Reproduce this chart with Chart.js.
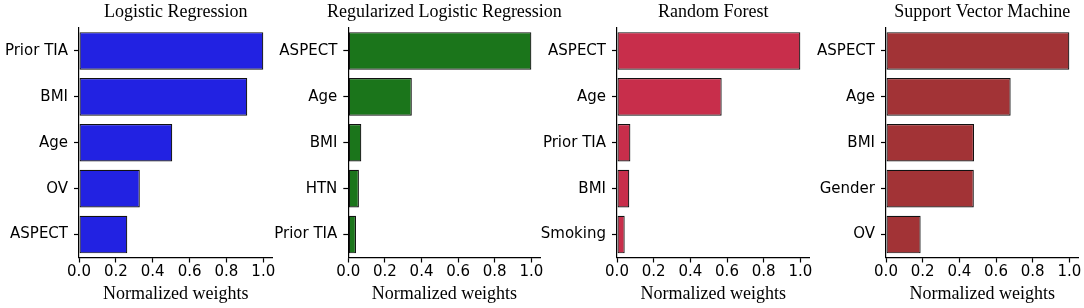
<!DOCTYPE html>
<html>
<head>
  <title>Normalized weights</title>
  <script src="https://cdn.jsdelivr.net/npm/chart.js"></script>
  <style>
    body {
      margin: 0;
      background-color: white;
    }
    .panel {
      position: absolute;
      top: 0;
      height: 308px;
    }
  </style>
</head>
<body>
  <div class="panel" style="left:0px"><canvas id="c0" width="300" height="308"></canvas></div>
  <div class="panel" style="left:270px"><canvas id="c1" width="300" height="308"></canvas></div>
  <div class="panel" style="left:540px"><canvas id="c2" width="300" height="308"></canvas></div>
  <div class="panel" style="left:808px"><canvas id="c3" width="276" height="308"></canvas></div>

  <script>
    const titles = ['Logistic Regression', 'Regularized Logistic Regression', 'Random Forest', 'Support Vector Machine'];

    const lrLabels = ['Prior TIA', 'BMI', 'Age', 'OV', 'ASPECT'];
    const lrValues = [1.0, 0.913, 0.506, 0.33, 0.262];

    const rlrLabels = ['ASPECT', 'Age', 'BMI', 'HTN', 'Prior TIA'];
    const rlrValues = [1.0, 0.347, 0.071, 0.058, 0.042];

    const rfLabels = ['ASPECT', 'Age', 'Prior TIA', 'BMI', 'Smoking'];
    const rfValues = [1.0, 0.571, 0.073, 0.067, 0.042];

    const svmLabels = ['ASPECT', 'Age', 'BMI', 'Gender', 'OV'];
    const svmValues = [1.0, 0.68, 0.48, 0.479, 0.189];

    const xTicks = [0.0, 0.2, 0.4, 0.6, 0.8, 1.0];
    const xTitle = 'Normalized weights';

    const colors = ['#2222e2', '#1b751b', '#c82e4b', '#a23336'];
    const yWidths = [79, 78.3, 77, 78];
    const rightPads = [27.5, 29.5, 30.5, 5.5];

    const tickFont = { family: "'DejaVu Sans', sans-serif", size: 15 };
    const serifFont = { family: "'Liberation Serif', serif", size: 18, weight: 'normal' };

    // panel title centred over the plot area, like matplotlib's ax.set_title
    const panelTitle = {
      id: 'panelTitle',
      afterDraw(chart, args, opts) {
        const ctx = chart.ctx;
        const area = chart.chartArea;
        ctx.save();
        ctx.font = "normal 18px 'Liberation Serif', serif";
        ctx.fillStyle = '#000';
        ctx.textAlign = 'center';
        ctx.textBaseline = 'middle';
        ctx.fillText(opts.text, (area.left + area.right) / 2, 12);
        ctx.restore();
      }
    };

    function makeChart(i, labels, values) {
      const ctx = document.getElementById('c' + i).getContext('2d');
      new Chart(ctx, {
        type: 'bar',
        data: {
          labels: labels,
          datasets: [{
            data: values,
            backgroundColor: colors[i],
            borderColor: '#111',
            borderWidth: 1.2,
            borderSkipped: false,
            barPercentage: 0.82,
            categoryPercentage: 1.0
          }]
        },
        plugins: [panelTitle],
        options: {
          indexAxis: 'y',
          responsive: false,
          animation: false,
          layout: { padding: { top: 28, right: rightPads[i], bottom: 3.4 } },
          plugins: {
            legend: { display: false },
            tooltip: { enabled: false },
            title: { display: false },
            panelTitle: { text: titles[i] }
          },
          scales: {
            x: {
              min: 0,
              max: 1.05,
              afterBuildTicks: function(scale) {
                scale.ticks = xTicks.map(v => ({ value: v }));
              },
              ticks: {
                color: '#000',
                font: tickFont,
                padding: 1,
                maxRotation: 0,
                callback: function(value) {
                  return Number(value).toFixed(1);
                }
              },
              grid: {
                drawOnChartArea: false,
                drawTicks: true,
                tickLength: 5,
                color: '#000',
                tickWidth: 1.2
              },
              border: { display: true, color: '#000', width: 1.2 },
              title: {
                display: true,
                text: xTitle,
                color: '#000',
                font: serifFont,
                padding: { top: 0.5, bottom: 0 }
              }
            },
            y: {
              afterFit: function(scale) {
                scale.width = yWidths[i];
              },
              ticks: {
                color: '#000',
                font: tickFont,
                padding: 6
              },
              grid: {
                offset: false,
                drawOnChartArea: false,
                drawTicks: true,
                tickLength: 5,
                color: '#000',
                tickWidth: 1.2
              },
              border: { display: true, color: '#000', width: 1.2 }
            }
          }
        }
      });
    }

    makeChart(0, lrLabels, lrValues);
    makeChart(1, rlrLabels, rlrValues);
    makeChart(2, rfLabels, rfValues);
    makeChart(3, svmLabels, svmValues);
  </script>
</body>
</html>
